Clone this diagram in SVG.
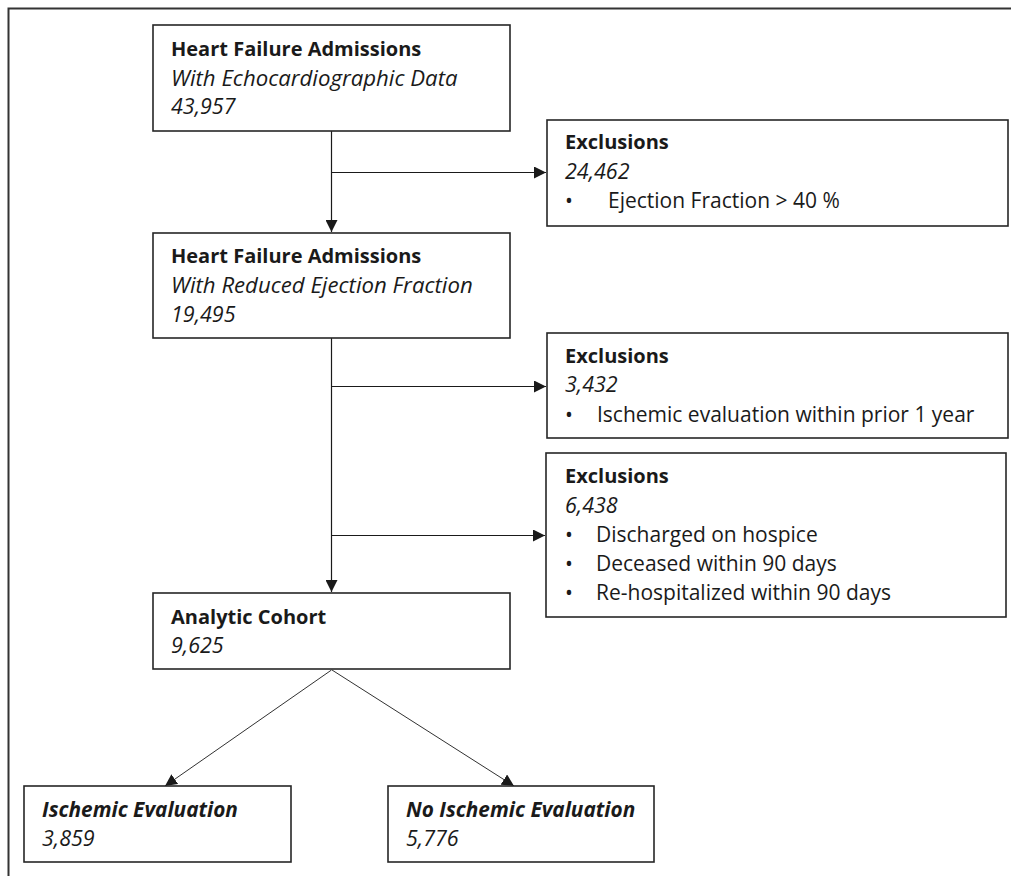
<svg xmlns="http://www.w3.org/2000/svg" width="1011" height="876" viewBox="0 0 1011 876">
<style>
text{font-family:"Open Sans","Liberation Sans",sans-serif;font-size:21px;fill:#1a1a1a}
.b{font-weight:bold;font-size:20px}
.i{font-style:italic;font-size:21.5px}
.iw{font-style:italic;font-size:22.2px}
.bi{font-weight:bold;font-style:italic;font-size:20.8px}
.box{fill:#fff;stroke:#262626;stroke-width:1.6}
.ln{fill:none;stroke:#1a1a1a;stroke-width:1.2}
.dg{fill:none;stroke:#1a1a1a;stroke-width:0.9}
</style>
<defs>
<marker id="ah" viewBox="0 0 12 12" refX="12" refY="6" markerWidth="12" markerHeight="12" markerUnits="userSpaceOnUse" orient="auto">
<path d="M0,0 L12,6 L0,12 Z" fill="#1a1a1a"/>
</marker>
</defs>
<rect x="0" y="0" width="1011" height="876" fill="#fff"/>
<path d="M8.5,876 V8.5 H1011" fill="none" stroke="#333" stroke-width="2"/>

<g id="connectors">
<line class="ln" x1="331.5" y1="131" x2="331.5" y2="232" marker-end="url(#ah)"/>
<line class="ln" x1="331.5" y1="172.5" x2="546" y2="172.5" marker-end="url(#ah)"/>
<line class="ln" x1="331.5" y1="338" x2="331.5" y2="592" marker-end="url(#ah)"/>
<line class="ln" x1="331.5" y1="386.5" x2="546" y2="386.5" marker-end="url(#ah)"/>
<line class="ln" x1="331.5" y1="535.5" x2="545" y2="535.5" marker-end="url(#ah)"/>
<line class="dg" x1="331.5" y1="670" x2="165" y2="786" marker-end="url(#ah)"/>
<line class="dg" x1="332" y1="670" x2="514" y2="786" marker-end="url(#ah)"/>
</g>

<g id="n1">
<rect class="box" x="153" y="25" width="357" height="106"/>
<text class="b" x="171" y="56">Heart Failure Admissions</text>
<text class="iw" x="171" y="86">With Echocardiographic Data</text>
<text class="i" x="171" y="114">43,957</text>
</g>
<g id="x1">
<rect class="box" x="547" y="120" width="461" height="106"/>
<text class="b" x="565" y="149">Exclusions</text>
<text class="i" x="565" y="179">24,462</text>
<text x="565" y="208">•</text>
<text x="608" y="208">Ejection Fraction &gt; 40 %</text>
</g>
<g id="n2">
<rect class="box" x="153" y="233" width="357" height="105"/>
<text class="b" x="171" y="263">Heart Failure Admissions</text>
<text class="iw" x="171" y="293">With Reduced Ejection Fraction</text>
<text class="i" x="171" y="322">19,495</text>
</g>
<g id="x2">
<rect class="box" x="547" y="333" width="461" height="105"/>
<text class="b" x="565" y="363">Exclusions</text>
<text class="i" x="565" y="392">3,432</text>
<text x="565" y="422">•</text>
<text x="597" y="422">Ischemic evaluation within prior 1 year</text>
</g>
<g id="x3">
<rect class="box" x="546" y="453" width="460" height="164"/>
<text class="b" x="565" y="483">Exclusions</text>
<text class="i" x="565" y="513">6,438</text>
<text x="565" y="542">•</text>
<text x="596" y="542">Discharged on hospice</text>
<text x="565" y="571">•</text>
<text x="596" y="571">Deceased within 90 days</text>
<text x="565" y="600">•</text>
<text x="596" y="600">Re-hospitalized within 90 days</text>
</g>
<g id="n3">
<rect class="box" x="153" y="593" width="357" height="76"/>
<text class="b" x="171" y="624">Analytic Cohort</text>
<text class="i" x="171" y="653">9,625</text>
</g>
<g id="n4">
<rect class="box" x="24" y="786" width="267" height="76"/>
<text class="bi" x="42" y="817">Ischemic Evaluation</text>
<text class="i" x="42" y="846">3,859</text>
</g>
<g id="n5">
<rect class="box" x="388" y="786" width="266" height="76"/>
<text class="bi" x="406" y="817">No Ischemic Evaluation</text>
<text class="i" x="406" y="846">5,776</text>
</g>
</svg>
